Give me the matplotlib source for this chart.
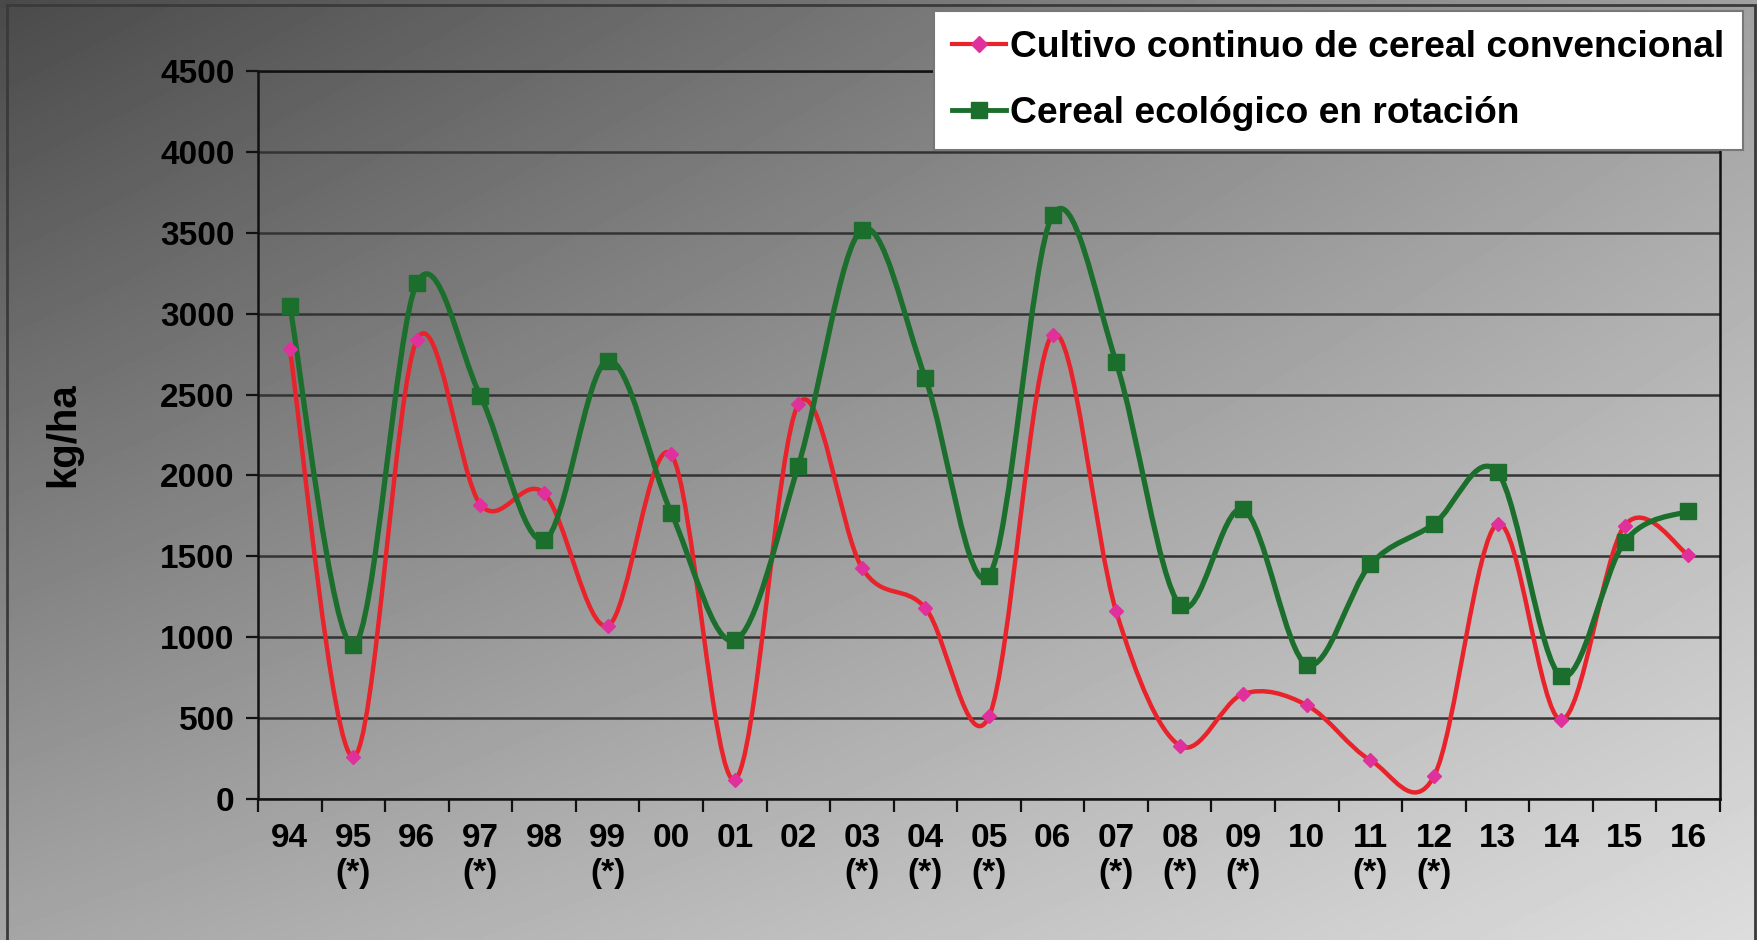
import numpy as np
import matplotlib.pyplot as plt
from matplotlib.path import Path
from matplotlib.patches import PathPatch, Rectangle
from matplotlib.lines import Line2D

plt.rcParams['font.family'] = ['Liberation Sans', 'DejaVu Sans']
plt.rcParams['font.weight'] = 'bold'

# Yield per campaign (kg/ha)
years = ['94', '95', '96', '97', '98', '99', '00', '01', '02', '03', '04', '05',
         '06', '07', '08', '09', '10', '11', '12', '13', '14', '15', '16']
starred = ['95', '97', '99', '03', '04', '05', '07', '08', '09', '11', '12']
convencional = [2780, 260, 2840, 1820, 1890, 1070, 2130, 120, 2440, 1430, 1180, 510,
                2870, 1160, 330, 650, 580, 240, 140, 1700, 490, 1690, 1510]
ecologico = [3050, 950, 3190, 2490, 1600, 2710, 1770, 980, 2060, 3520, 2600, 1380,
             3610, 2700, 1200, 1790, 830, 1450, 1700, 2020, 760, 1590, 1780]

label_conv = 'Cultivo continuo de cereal convencional'
label_eco = 'Cereal ecológico en rotación'

RED = '#e8232b'
PINK = '#e0309c'
GREEN = '#1b6e2c'


def smooth_path(xs, ys):
    # Catmull-Rom style bezier through every point (same idea as spreadsheet smoothing)
    pts = np.column_stack([xs, ys]).astype(float)
    ext = np.vstack([pts[0], pts, pts[-1]])
    verts = [pts[0]]
    codes = [Path.MOVETO]
    for i in range(len(pts) - 1):
        p0, p1, p2, p3 = ext[i], ext[i + 1], ext[i + 2], ext[i + 3]
        verts += [p1 + (p2 - p0) / 6, p2 - (p3 - p1) / 6, p2]
        codes += [Path.CURVE4] * 3
    return Path(verts, codes)


fig = plt.figure(figsize=(17.58, 9.4), dpi=100)

# grey diagonal gradient behind everything
bg = fig.add_axes([0, 0, 1, 1], zorder=-10)
gx, gy = np.meshgrid(np.linspace(0, 1, 400), np.linspace(0, 1, 240))
tl, tr, bl, br = 74, 160, 165, 221
grad = tl * (1 - gx) * (1 - gy) + tr * gx * (1 - gy) + bl * (1 - gx) * gy + br * gx * gy
bg.imshow(grad / 255, cmap='gray', vmin=0, vmax=1, aspect='auto', interpolation='bilinear')
bg.axis('off')

fig.add_artist(Rectangle((7 / 1758, -0.05), 1748 / 1758, 1.05 - 5 / 940,
                         transform=fig.transFigure, fill=False, edgecolor='#3a3a3a', lw=2))

ax = fig.add_axes([258 / 1758, 1 - 799 / 940, 1462 / 1758, 728 / 940])
ax.set_facecolor('none')

x = np.arange(len(years))
for vals, col, lw in [(convencional, RED, 3.2), (ecologico, GREEN, 3.8)]:
    ax.add_patch(PathPatch(smooth_path(x, vals), fill=False, edgecolor=col, lw=lw,
                           capstyle='round', joinstyle='round', zorder=3))
ax.plot(x, convencional, ls='none', marker='D', ms=7, color=PINK, zorder=4)
ax.plot(x, ecologico, ls='none', marker='s', ms=11, color=GREEN, zorder=4)

ax.set_xlim(-0.5, len(years) - 0.5)
ax.set_ylim(0, 4500)
ax.set_yticks(np.arange(0, 4501, 500))
ax.yaxis.grid(True, color='#333333', lw=1.8)
ax.set_axisbelow(True)

# year labels centred on categories, tick marks between them
ax.set_xticks(np.arange(-0.5, len(years), 1))
ax.set_xticklabels([])
ax.set_xticks(x, minor=True)
ax.set_xticklabels([y + '\n(*)' if y in starred else y for y in years], minor=True)
ax.tick_params(axis='x', which='minor', length=0, pad=17, labelsize=24)
ax.tick_params(axis='x', which='major', length=9, width=1.6, color='#111111')
ax.tick_params(axis='y', length=9, width=1.6, color='#111111', labelsize=24, pad=8)
for s in ax.spines.values():
    s.set_color('#111111')
    s.set_linewidth(1.8)

ax.set_ylabel('kg/ha', fontsize=29, fontweight='bold')
ax.yaxis.set_label_coords(-0.12, 0.5)

handles = [Line2D([], [], color=RED, lw=3, marker='D', ms=8, mfc=PINK, mec=PINK),
           Line2D([], [], color=GREEN, lw=3.5, marker='s', ms=12)]
leg = fig.legend(handles, [label_conv, label_eco], loc='upper right',
                 bbox_to_anchor=(1743 / 1758, 1 - 11 / 940), fontsize=26.8,
                 frameon=True, fancybox=False, framealpha=1, edgecolor='#777777',
                 handlelength=1.45, handletextpad=0.1, labelspacing=0.85,
                 borderpad=0.5, borderaxespad=0)
leg.get_frame().set_linewidth(1.5)

fig.savefig('out.png', dpi=100)
